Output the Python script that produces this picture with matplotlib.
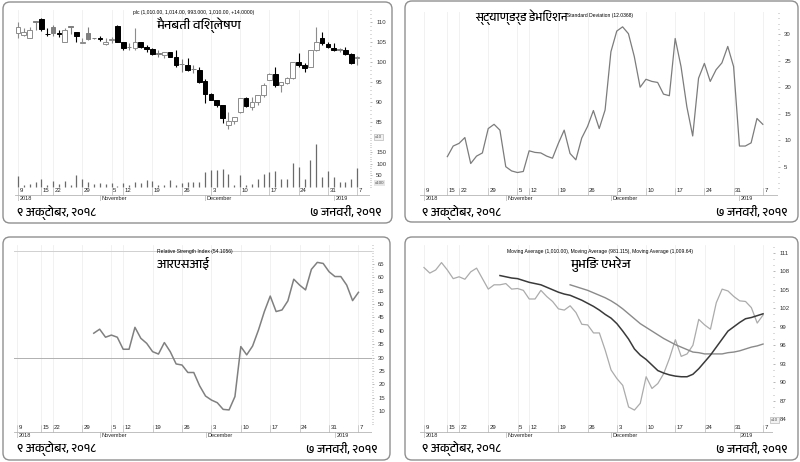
import matplotlib
matplotlib.use('Agg')
import matplotlib.pyplot as plt
from matplotlib import font_manager
from matplotlib.ft2font import FT2Font
from matplotlib.patches import FancyBboxPatch
from matplotlib.transforms import IdentityTransform
from matplotlib.ticker import MultipleLocator

# x axis: trading day index of each labelled date
day_pos = [0, 4, 6, 11, 16, 18, 23, 28, 33, 38, 43, 48, 53, 58]
day_txt = ['9', '15', '22', '29', '5', '12', '19', '26', '3', '10', '17', '24', '31', '7']
month_pos = [0, 14, 32, 54]
month_txt = ['2018', 'November', 'December', '2019']

# candles (price / 10)
opens = [107.3, 106.8, 105.9, 110.1, 110.8, 107.0, 108.8, 107.3, 105.1, 108.9,
         107.6, 104.8, 107.2, 106.0, 105.9, 104.4, 105.5, 109.1, 105.1, 103.8,
         103.4, 105.1, 103.8, 103.2, 102.2, 101.8, 102.4, 101.3, 99.6, 99.25,
         98.3, 98.0, 95.3, 92.0, 90.5, 89.25, 84.25, 85.3, 87.6, 90.9,
         88.8, 90.1, 91.75, 95.5, 97.0, 94.25, 94.7, 95.9, 100.1, 99.25,
         98.8, 103.0, 105.9, 104.5, 103.6, 103.1, 103.0, 102.0, 101.0]
highs = [109.9, 108.5, 108.8, 110.2, 111.0, 108.5, 109.3, 108.0, 108.4, 108.9,
         107.6, 106.1, 108.8, 106.1, 106.6, 105.9, 106.3, 109.3, 105.1, 104.7,
         108.4, 105.1, 104.2, 103.4, 103.0, 102.6, 102.6, 103.0, 100.7, 100.9,
         99.25, 98.8, 95.7, 92.2, 90.5, 89.25, 87.6, 86.3, 90.9, 91.2,
         91.3, 91.75, 94.7, 97.2, 98.8, 95.1, 96.3, 100.1, 102.2, 99.7,
         103.0, 108.8, 107.6, 105.1, 104.7, 103.4, 103.8, 102.2, 101.5]
lows = [105.9, 106.5, 105.9, 108.0, 107.8, 106.6, 106.4, 106.3, 104.9, 106.9,
        105.1, 104.7, 105.5, 105.7, 105.2, 104.3, 104.7, 105.1, 103.0, 103.0,
        103.0, 103.4, 102.6, 101.8, 101.3, 100.9, 101.3, 98.8, 97.6, 97.8,
        97.2, 94.8, 89.8, 90.5, 88.8, 84.8, 83.2, 84.5, 87.2, 88.7,
        88.0, 89.3, 91.3, 95.5, 93.8, 92.6, 94.5, 95.7, 98.8, 97.6,
        98.7, 102.8, 104.25, 103.4, 102.8, 102.6, 101.75, 99.5, 99.25]
closes = [108.7, 107.4, 108.0, 110.0, 108.3, 106.9, 107.2, 107.1, 108.0, 108.8,
          106.6, 105.1, 105.75, 105.9, 105.8, 105.1, 105.5, 105.1, 103.6, 103.7,
          105.1, 103.8, 103.2, 102.0, 102.1, 102.4, 101.3, 99.25, 99.4, 98.0,
          98.2, 95.1, 92.0, 90.5, 89.25, 85.9, 85.3, 86.3, 90.9, 89.0,
          90.1, 91.75, 94.25, 97.0, 94.25, 95.1, 95.9, 100.1, 99.25, 98.4,
          103.0, 105.1, 104.8, 103.7, 103.0, 103.0, 102.0, 99.7, 101.0]
volume = [46, 10, 14, 20, 34, 10, 24, 13, 24, 7, 53, 34, 20, 14, 17, 13, 17, 3, 17, 10,
          20, 17, 29, 24, 10, 10, 30, 10, 17, 20, 20, 22, 64, 74, 74, 79, 57, 10, 50, 10,
          13, 36, 57, 64, 67, 36, 36, 103, 84, 36, 117, 186, 43, 70, 43, 21, 21, 36, 81]

# standard deviation, starts at day 4
sd_start = 4
sd_vals = [6.9, 8.9, 9.4, 10.5, 5.6, 7.0, 7.6, 12.2, 13.0, 11.9,
           5.0, 4.2, 3.9, 4.1, 8.0, 7.7, 7.6, 7.0, 6.6, 9.4,
           11.9, 7.5, 6.3, 10.4, 12.6, 15.6, 12.2, 15.7, 26.7, 30.6,
           31.4, 30.1, 25.8, 20.0, 21.5, 21.1, 20.9, 18.7, 18.4, 29.2,
           23.9, 16.3, 10.8, 21.7, 24.5, 21.1, 23.3, 24.6, 27.7, 23.9,
           8.9, 8.9, 9.5, 14.1, 13.0]

# RSI, starts at day 13
rsi_start = 13
rsi_vals = [39.1, 40.6, 37.6, 38.4, 37.6, 33.1, 33.1, 41.3, 37.2, 35.3,
            32.2, 31.3, 35.6, 32.2, 27.6, 27.2, 24.4, 24.4, 19.4, 15.6,
            14.1, 13.1, 10.6, 10.4, 15.4, 34.1, 31.0, 34.3, 40.3, 47.2,
            53.0, 47.2, 47.8, 51.2, 59.3, 57.1, 55.3, 63.0, 65.6, 65.2,
            62.1, 60.3, 60.3, 57.1, 51.3, 54.4]
rsi_levels = [30, 70]
rsi_ticks = [10, 15, 20, 25, 30, 35, 40, 45, 50, 55, 60, 65]

# moving averages
ma1_vals = [108.6, 107.7, 108.2, 109.4, 108.2, 106.8, 107.1, 106.7, 107.9, 108.5,
            106.8, 105.1, 105.8, 105.8, 106.0, 105.1, 105.2, 104.9, 103.5, 103.5,
            104.9, 103.9, 103.1, 101.9, 101.7, 102.4, 101.3, 99.4, 99.3, 98.0,
            98.0, 95.2, 92.0, 90.6, 89.5, 86.0, 85.5, 86.6, 90.9, 89.0,
            89.8, 91.4, 93.9, 96.9, 94.2, 94.6, 96.0, 100.2, 99.3, 98.6,
            102.9, 105.1, 104.8, 103.9, 103.2, 103.1, 102.1, 99.6, 100.9]
ma2_start = 13
ma2_vals = [107.3, 107.1, 106.9, 106.8, 106.5, 106.2, 106.0, 105.8, 105.4, 105.0,
            104.6, 104.3, 104.1, 103.7, 103.3, 102.8, 102.3, 101.7, 101.0, 100.4,
            99.5, 98.3, 97.0, 95.4, 94.4, 93.7, 92.8, 91.9, 91.5, 91.2,
            91.0, 90.9, 90.9, 91.3, 92.2, 93.3, 94.4, 95.7, 97.0, 98.3,
            99.0, 99.7, 100.3, 100.5, 100.8, 101.1]
ma3_start = 25
ma3_vals = [105.8, 105.5, 105.2, 104.9, 104.5, 104.1, 103.7, 103.2, 102.6, 101.9,
            101.1, 100.3, 99.5, 98.9, 98.3, 97.7, 97.1, 96.6, 96.1, 95.7,
            95.3, 94.9, 94.8, 94.6, 94.6, 94.6, 94.6, 94.8, 94.9, 95.1,
            95.4, 95.7, 95.9, 96.2]

date_from = '९ अक्टोबर, २०१८'
date_to = '७ जनवरी, २०१९'


def find_deva():
    # any installed font that has Devanagari glyphs
    for f in font_manager.fontManager.ttflist:
        if 'Devanagari' in f.name:
            return f.name
    for f in font_manager.fontManager.ttflist:
        try:
            if 0x0915 in FT2Font(f.fname).get_charmap():
                return f.name
        except Exception:
            pass
    return 'DejaVu Sans'


deva = find_deva()
plt.rcParams['font.family'] = ['Liberation Sans', deva, 'DejaVu Sans']
DEVA = [deva, 'DejaVu Sans']

W, H = 800, 462
fig = plt.figure(figsize=(8, 4.62), dpi=100)


def px_axes(x0, y0, x1, y1):
    return fig.add_axes([x0 / W, 1 - y1 / H, (x1 - x0) / W, (y1 - y0) / H])


def ftext(x, y, s, **kw):
    fig.text(x / W, 1 - y / H, s, **kw)


def panel(x0, y0, x1, y1):
    box = FancyBboxPatch((x0, H - y1), x1 - x0, y1 - y0,
                         boxstyle='round,pad=0,rounding_size=7',
                         transform=IdentityTransform(), fc='none', ec='#8f8f8f', lw=1)
    fig.add_artist(box)


def style_main(ax, xlim, ylim, step, minor):
    ax.set_xlim(xlim)
    ax.set_ylim(ylim)
    for s in ax.spines.values():
        s.set_visible(False)
    ax.set_xticks([])
    ax.yaxis.tick_right()
    ax.yaxis.set_major_locator(MultipleLocator(step))
    ax.yaxis.set_minor_locator(MultipleLocator(minor))
    ax.tick_params(axis='y', which='both', length=1.5, width=0.5, color='#9a9a9a',
                   labelsize=4.3, pad=3, labelcolor='#333333')
    ax.tick_params(axis='y', which='minor', length=1)
    for p in day_pos:
        ax.axvline(p, color='#efefef', lw=0.6, zorder=0)
    ax.patch.set_alpha(0)


def date_axis(x0, x1, y0, xlim):
    ax = px_axes(x0, y0, x1, y0 + 13)
    ax.set_xlim(xlim)
    ax.set_ylim(0, 1)
    ax.axis('off')
    ax.axhline(0.5, color='#b5b5b5', lw=0.6)
    for p, t in zip(day_pos, day_txt):
        ax.plot([p, p], [0.5, 1], color='#b5b5b5', lw=0.5)
        ax.text(p + 0.25, 0.78, t, fontsize=4.3, va='center', ha='left', color='#222222')
    for p, t in zip(month_pos, month_txt):
        ax.plot([p, p], [0.0, 0.5], color='#b5b5b5', lw=0.5)
        ax.text(p + 0.25, 0.22, t, fontsize=4.0, va='center', ha='left', color='#222222')


def dates(xl, xr, y):
    ftext(xl, y, date_from, family=DEVA, fontsize=8.7, va='center', ha='left')
    ftext(xr, y, date_to, family=DEVA, fontsize=8.7, va='center', ha='right')


days = list(range(len(closes)))

# ---- panel 1: candles + volume
panel(3, 2, 392, 223)
xl1 = (-0.51, 60.2)
ax = px_axes(15, 10, 370, 140)
style_main(ax, xl1, (80.5, 113), 5, 1)
ax.set_ylim(80.5, 113)
ax.set_yticks([85, 90, 95, 100, 105, 110])
for i in days:
    o, h, l, c = opens[i], highs[i], lows[i], closes[i]
    if c >= o:
        fc, ec = 'white', '#8c8c8c'
    elif i > 0 and c >= closes[i - 1]:
        fc, ec = '#7f7f7f', '#7f7f7f'
    else:
        fc, ec = 'black', 'black'
    ax.vlines(i, l, h, color=ec, lw=0.8, zorder=2)
    ax.bar(i, max(abs(c - o), 0.15), bottom=min(o, c), width=0.8,
           color=fc, edgecolor=ec, lw=0.7, zorder=3)

axv = px_axes(15, 140, 370, 188)
style_main(axv, xl1, (-4.3, 201), 50, 10)
axv.set_yticks([50, 100, 150])
axv.vlines(days, 0, volume, color='#6a6a6a', lw=0.9)
date_axis(15, 370, 188, xl1)
ftext(375, 137, 'x10', fontsize=3.2, va='center', ha='left', color='#555555',
      bbox=dict(boxstyle='square,pad=0.15', fc='#f2f2f2', ec='#aaaaaa', lw=0.4))
ftext(375, 183, 'x100', fontsize=3.2, va='center', ha='left', color='#555555',
      bbox=dict(boxstyle='square,pad=0.15', fc='#e6e6e6', ec='none'))
ftext(194, 12.5, 'plc (1,010.00, 1,014.00, 993.000, 1,010.00, +14.0000)',
      fontsize=3.6, ha='center', va='center')
ftext(199, 25, 'मैनबती विश्लेषण', family=DEVA, fontsize=9.2, ha='center', va='center')
dates(17, 382, 212)

# ---- panel 2: standard deviation
panel(405, 1, 798, 222)
xl2 = (-0.68, 60.6)
ax = px_axes(420, 12, 778, 188)
style_main(ax, xl2, (0.98, 34.2), 5, 1)
ax.plot(range(sd_start, sd_start + len(sd_vals)), sd_vals, color='#7c7c7c', lw=0.9)
date_axis(420, 778, 188, xl2)
ftext(475, 17, 'स्ट्याण्डर्ड डेभिएशन', family=DEVA, fontsize=8.4, ha='left', va='center')
ftext(567, 15, 'Standard Deviation (12.0368)', fontsize=3.6, ha='left', va='center')
dates(422, 787, 212)

# ---- panel 3: RSI
panel(3, 237, 390, 460)
xl3 = (-0.56, 60.3)
ax = px_axes(14, 245, 372, 425)
style_main(ax, xl3, (4.76, 72.1), 5, 1)
ax.set_yticks(rsi_ticks)
ax.axhline(rsi_levels[0], color='#b0b0b0', lw=0.7)
ax.axhline(rsi_levels[1], color='#d0d0d0', lw=0.7)
ax.plot(range(rsi_start, rsi_start + len(rsi_vals)), rsi_vals, color='#808080', lw=1.1)
date_axis(14, 372, 425, xl3)
ftext(157, 251.5, 'Relative Strength Index (54.1056)', fontsize=3.6, ha='left', va='center')
ftext(157, 263.5, 'आरएसआई', family=DEVA, fontsize=9, ha='left', va='center')
dates(17, 377, 449)

# ---- panel 4: moving averages
panel(405, 237, 798, 460)
xl4 = (-0.68, 59.7)
ax = px_axes(420, 245, 773, 425)
style_main(ax, xl4, (83.08, 112.25), 3, 1)
ax.plot(days, ma1_vals, color='#ababab', lw=0.9)
ax.plot(range(ma3_start, ma3_start + len(ma3_vals)), ma3_vals, color='#8a8a8a', lw=1.0)
ax.plot(range(ma2_start, ma2_start + len(ma2_vals)), ma2_vals, color='#3a3a3a', lw=1.1)
date_axis(420, 773, 425, xl4)
ftext(771, 420, 'x10', fontsize=3.2, va='center', ha='left', color='#555555',
      bbox=dict(boxstyle='square,pad=0.15', fc='#f2f2f2', ec='#aaaaaa', lw=0.4))
ftext(600, 251.5, 'Moving Average (1,010.00), Moving Average (981.115), Moving Average (1,009.64)',
      fontsize=3.6, ha='center', va='center')
ftext(601, 264.5, 'मुभिङ एभरेज', family=DEVA, fontsize=9.4, ha='center', va='center')
dates(422, 787, 449)

fig.savefig('out.png', dpi=100)
